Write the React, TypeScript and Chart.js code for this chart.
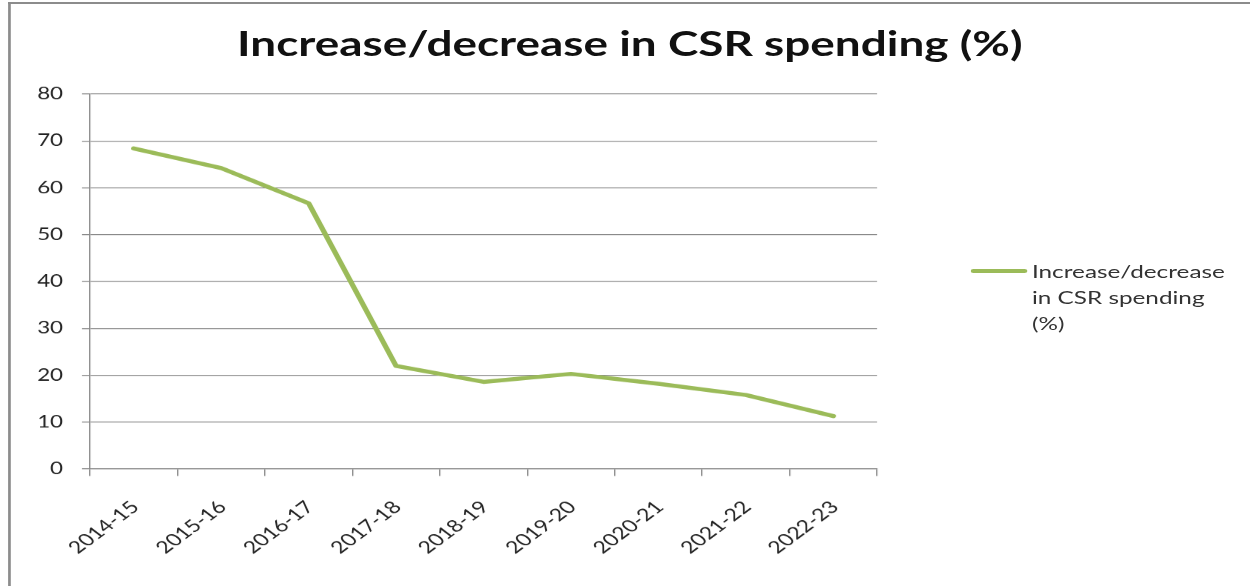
import React, { useEffect, useRef } from "react";
import { Chart, registerables } from "chart.js";

Chart.register(...registerables);

const TITLE = "Increase/decrease in CSR spending (%)";
const SERIES_NAME = "Increase/decrease in CSR spending (%)";
const LEGEND_LINES = ["Increase/decrease", "in CSR spending", "(%)"];
const categories = ["2014-15", "2015-16", "2016-17", "2017-18", "2018-19", "2019-20", "2020-21", "2021-22", "2022-23"];
const values = [68.4, 64.2, 56.7, 22.0, 18.6, 20.3, 18.2, 15.8, 11.3];
const yTicks = [0, 10, 20, 30, 40, 50, 60, 70, 80];

const LINE_COLOR = "#9BBB59";
const GRID_COLOR = "#8a8a8a";
const FONT = "Lato, 'Open Sans', sans-serif";

// The reference picture is horizontally stretched; the chart is laid out in an
// unstretched frame and widened with a CSS transform.
const STRETCH = 1.35;
const FRAME_W = 926;
const FRAME_H = 586;

export default function App() {
  const ref = useRef<HTMLCanvasElement | null>(null);

  useEffect(() => {
    if (!ref.current) return;
    const chart = new Chart(ref.current, {
      type: "line",
      data: {
        labels: categories,
        datasets: [
          {
            label: SERIES_NAME,
            data: values,
            borderColor: LINE_COLOR,
            backgroundColor: LINE_COLOR,
            borderWidth: 4,
            pointRadius: 0,
            tension: 0,
            borderCapStyle: "round",
            borderJoinStyle: "round",
          },
        ],
      },
      options: {
        responsive: false,
        animation: false,
        maintainAspectRatio: false,
        devicePixelRatio: STRETCH,
        layout: { padding: { left: 0, right: 276.4, top: 94, bottom: 0 } },
        plugins: {
          legend: { display: false },
          title: { display: false },
          tooltip: { enabled: false },
        },
        scales: {
          x: {
            type: "category",
            offset: true,
            afterFit: (s: any) => {
              s.height = 117;
            },
            grid: {
              display: true,
              drawOnChartArea: false,
              offset: true,
              color: GRID_COLOR,
              tickLength: 7,
            },
            border: { display: true, color: GRID_COLOR, width: 1 },
            ticks: {
              minRotation: 45,
              maxRotation: 45,
              autoSkip: false,
              padding: 21,
              labelOffset: 1,
              color: "#222",
              font: { family: FONT, size: 17 },
            },
          },
          y: {
            min: 0,
            max: 80,
            afterFit: (s: any) => {
              s.width = 66.67;
            },
            afterBuildTicks: (s: any) => {
              s.ticks = yTicks.map((v) => ({ value: v }));
            },
            grid: {
              color: GRID_COLOR,
              tickLength: 6,
            },
            border: { display: true, color: GRID_COLOR, width: 1 },
            ticks: {
              padding: 14,
              color: "#222",
              font: { family: FONT, size: 16.5 },
            },
          },
        },
      },
    });
    return () => chart.destroy();
  }, []);

  return (
    <div style={{ position: "fixed", left: 0, top: 0, width: 1250, height: 586, overflow: "hidden", background: "#fff" }}>
      <div
        style={{
          position: "absolute",
          left: 0,
          top: 0,
          width: FRAME_W,
          height: FRAME_H,
          transform: `scaleX(${STRETCH})`,
          transformOrigin: "0 0",
        }}
      >
        <div
          style={{
            position: "absolute",
            left: 6,
            top: 2,
            width: 1000,
            height: 800,
            borderLeft: "2px solid #8c8c8c",
            borderTop: "2px solid #8c8c8c",
          }}
        />
        <canvas ref={ref} width={FRAME_W} height={FRAME_H} style={{ position: "absolute", left: 0, top: 0 }} />
        <div
          style={{
            position: "absolute",
            left: 0,
            width: 933,
            top: 21,
            textAlign: "center",
            fontFamily: FONT,
            fontWeight: 700,
            fontSize: 34,
            lineHeight: "44px",
            color: "#111",
            whiteSpace: "nowrap",
          }}
        >
          {TITLE}
        </div>
        <div style={{ position: "absolute", left: 719.3, top: 269, width: 41.5, height: 4, background: LINE_COLOR, borderRadius: 2 }} />
        <div
          style={{
            position: "absolute",
            left: 764.4,
            top: 257.5,
            fontFamily: FONT,
            fontSize: 18,
            lineHeight: "26.3px",
            color: "#333",
            whiteSpace: "nowrap",
          }}
        >
          {LEGEND_LINES.map((l, i) => (
            <div key={i}>{l}</div>
          ))}
        </div>
      </div>
    </div>
  );
}
